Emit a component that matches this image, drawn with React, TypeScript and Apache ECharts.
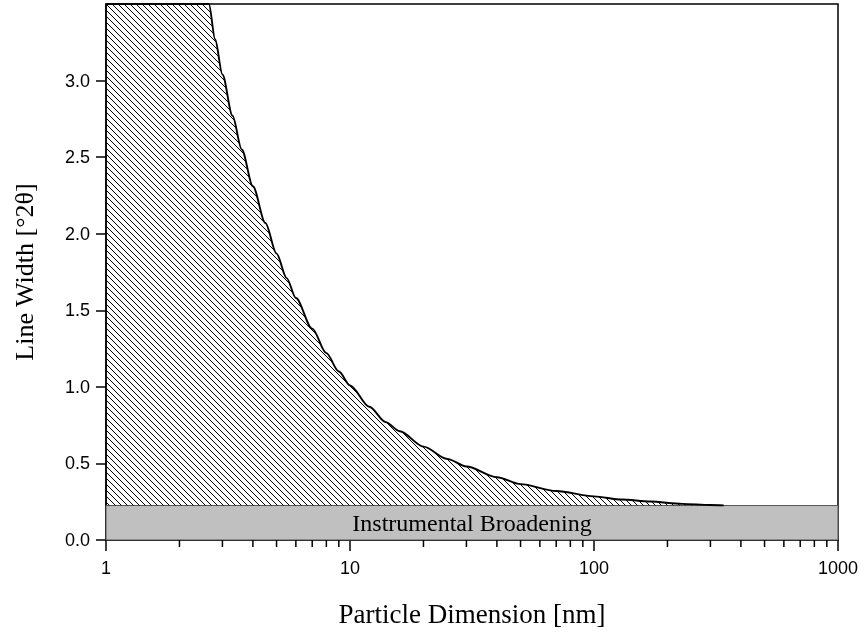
import React, { useEffect, useRef } from "react";
import * as echarts from "echarts";

// Particle dimension [nm] vs line width [°2θ]
const curveSize = [1, 2.64, 2.8, 3.0, 3.3, 3.6, 4.0, 4.5, 5.0, 5.5, 6.0, 7.0, 8.0, 9.0, 10, 12, 14, 16, 20, 25, 30, 40, 50, 70, 100, 130, 170, 230, 300, 340];
const curveWidth = [3.5, 3.5, 3.27, 3.04, 2.77, 2.55, 2.31, 2.07, 1.87, 1.71, 1.58, 1.38, 1.22, 1.1, 1.01, 0.87, 0.77, 0.71, 0.61, 0.53, 0.48, 0.41, 0.365, 0.32, 0.285, 0.264, 0.251, 0.236, 0.229, 0.226];
const instrumentalWidth = 0.225;
const minorTickValues = [2, 3, 4, 5, 6, 7, 8, 9, 20, 30, 40, 50, 60, 70, 80, 90, 200, 300, 400, 500, 600, 700, 800, 900];
const yTickValues = [0, 0.5, 1.0, 1.5, 2.0, 2.5, 3.0];

const SANS = "'Liberation Sans', Arial, sans-serif";
const SERIF = "'Liberation Serif', 'Times New Roman', serif";

function makeHatch(size: number) {
  const c = document.createElement("canvas");
  c.width = size;
  c.height = size;
  const ctx = c.getContext("2d")!;
  ctx.clearRect(0, 0, size, size);
  ctx.fillStyle = "#000";
  for (let i = 0; i < size; i++) ctx.fillRect(i, i, 1, 1);
  return c.toDataURL();
}

export default function App() {
  const ref = useRef<HTMLDivElement>(null);
  useEffect(() => {
    if (!ref.current) return;
    const chart = echarts.init(ref.current, null, { renderer: "svg" });
    const hatch = makeHatch(6);
    const curveData = curveSize.map((d, i) => [d, curveWidth[i]]);
    chart.setOption({
      animation: false,
      grid: {
        left: 106,
        right: 27,
        top: 4,
        bottom: 95,
        show: true,
        borderColor: "#000",
        borderWidth: 1.5,
        backgroundColor: "transparent",
      },
      xAxis: {
        type: "log",
        logBase: 10,
        min: 1,
        max: 1000,
        name: "Particle Dimension [nm]",
        nameLocation: "middle",
        nameGap: 60,
        nameTextStyle: { fontFamily: SERIF, fontSize: 27, color: "#000" },
        axisLine: { show: true, lineStyle: { color: "#000", width: 1.5 } },
        axisTick: { show: true, length: 11, lineStyle: { color: "#000", width: 1.5 } },
        minorTick: { show: false },
        splitLine: { show: false },
        axisLabel: {
          margin: 19,
          fontFamily: SANS,
          fontSize: 18,
          color: "#000",
          formatter: (v: number) => String(Math.round(v)),
        },
      },
      yAxis: {
        type: "value",
        min: 0,
        max: 3.5,
        interval: 0.5,
        name: "Line Width [°2θ]",
        nameLocation: "middle",
        nameGap: 69,
        nameTextStyle: { fontFamily: SERIF, fontSize: 26, color: "#000" },
        axisLine: { show: true, lineStyle: { color: "#000", width: 1.5 } },
        axisTick: { show: true, length: 10, customValues: yTickValues, lineStyle: { color: "#000", width: 1.5 } },
        splitLine: { show: false },
        axisLabel: {
          margin: 16,
          fontFamily: SANS,
          fontSize: 18,
          color: "#000",
          customValues: yTickValues,
          formatter: (v: number) => v.toFixed(1),
        },
      },
      series: [
        {
          type: "line",
          data: curveData,
          symbol: "none",
          smooth: 0.3,
          smoothMonotone: "x",
          z: 2,
          lineStyle: { color: "#000", width: 1.9 },
          areaStyle: {
            origin: instrumentalWidth,
            opacity: 1,
            color: { image: hatch, repeat: "repeat", imageWidth: 6, imageHeight: 6 },
          },
          markArea: {
            silent: true,
            itemStyle: { color: "#c0c0c0", opacity: 1, borderColor: "#555", borderWidth: 1 },
            label: {
              show: true,
              position: "inside",
              fontFamily: SERIF,
              fontSize: 24,
              color: "#000",
            },
            data: [[{ name: "Instrumental Broadening", coord: [1, 0] }, { coord: [1000, instrumentalWidth] }]],
          },
        },
        {
          type: "custom",
          clip: false,
          z: 4,
          data: minorTickValues.map((v) => [v, 0]),
          encode: { x: 0, y: 1 },
          renderItem: (params: any, api: any) => {
            const p = api.coord([api.value(0), 0]);
            return {
              type: "line",
              shape: { x1: p[0], y1: p[1], x2: p[0], y2: p[1] + 7 },
              style: { stroke: "#000", lineWidth: 1.5 },
            };
          },
        },
      ],
    });
    return () => chart.dispose();
  }, []);
  return <div ref={ref} style={{ position: "fixed", left: 0, top: 0, width: 865, height: 635 }} />;
}
